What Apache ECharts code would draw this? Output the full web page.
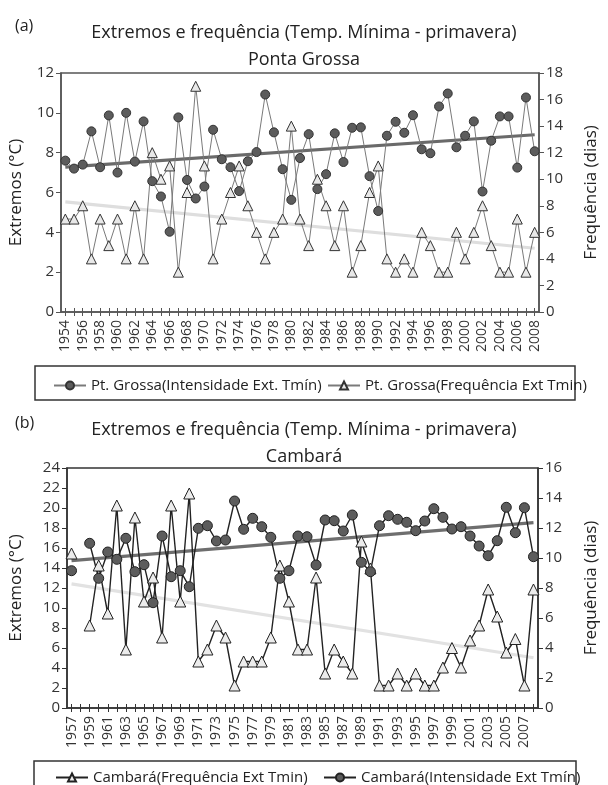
<!DOCTYPE html>
<html>
<head>
<meta charset="utf-8">
<script src="https://cdn.jsdelivr.net/npm/echarts@6/dist/echarts.min.js"></script>
<style>html,body{margin:0;padding:0;background:#fff}#c{width:608px;height:785px}</style>
</head>
<body>
<div id="c"></div>
<script>
// ---------- Data: Ponta Grossa (a) ----------
const yearsPG = ['1954','1955','1956','1957','1958','1959','1960','1961','1962','1963','1964','1965','1966','1967','1968','1969','1970','1971','1972','1973','1974','1975','1976','1977','1978','1979','1980','1981','1982','1983','1984','1985','1986','1987','1988','1989','1990','1991','1992','1993','1994','1995','1996','1997','1998','1999','2000','2001','2002','2003','2004','2005','2006','2007','2008'];
const pgIntensity = [7.6,7.2,7.4,9.07,7.27,9.87,7.0,10.0,7.55,9.57,6.57,5.8,4.03,9.77,6.63,5.7,6.3,9.15,7.67,7.27,6.07,7.57,8.03,10.92,9.02,7.17,5.63,7.73,8.93,6.17,6.92,8.97,7.53,9.25,9.27,6.82,5.07,8.85,9.55,9.0,9.88,8.17,7.97,10.32,10.97,8.27,8.85,9.57,6.05,8.6,9.82,9.82,7.25,10.77,8.07];
const pgFrequency = [7,7,8,4,7,5,7,4,8,4,12,10,11,3,9,17,11,4,7,9,11,8,6,4,6,7,14,7,5,10,8,5,8,3,5,9,11,4,3,4,3,6,5,3,3,6,4,6,8,5,3,3,7,3,6];
const pgIntensityTrend = [7.27, 8.9];   // start / end of linear trend
const pgFrequencyTrend = [8.3, 4.8];

// ---------- Data: Cambará (b) ----------
const yearsCB = ['1957','1958','1959','1960','1961','1962','1963','1964','1965','1966','1967','1968','1969','1970','1971','1972','1973','1974','1975','1976','1977','1978','1979','1980','1981','1982','1983','1984','1985','1986','1987','1988','1989','1990','1991','1992','1993','1994','1995','1996','1997','1998','1999','2000','2001','2002','2003','2004','2005','2006','2007','2008'];
const cbIntensity = [13.73,null,16.47,12.97,15.6,14.87,16.97,13.63,14.33,10.53,17.2,13.13,13.73,12.13,17.97,18.23,16.7,16.8,20.7,17.87,18.97,18.13,17.07,12.97,13.73,17.2,17.13,14.3,18.8,18.73,17.7,19.3,14.57,13.63,18.23,19.23,18.87,18.57,17.73,18.7,19.93,19.07,17.9,18.13,17.2,16.2,15.23,16.73,20.07,17.53,20.03,15.13];
const cbFrequency = [10.3,null,5.5,9.5,6.3,13.5,3.9,12.7,7.1,8.7,4.7,13.5,7.1,14.3,3.1,3.9,5.5,4.7,1.5,3.1,3.1,3.1,4.7,9.5,7.1,3.9,3.9,8.7,2.3,3.9,3.1,2.3,11.1,9.3,1.5,1.5,2.3,1.5,2.3,1.5,1.5,2.7,4.0,2.7,4.5,5.5,7.9,6.1,3.7,4.6,1.5,7.9];
const cbIntensityTrend = [14.73, 18.53];
const cbFrequencyTrend = [8.27, 3.35];

const FONT = 'Open Sans';
const chart = echarts.init(document.getElementById('c'), null, {renderer: 'canvas'});

function xAxes(gridIndex, cats, color) {
  return [
    {type:'category', gridIndex, data:cats, boundaryGap:true, position:'bottom',
     axisLine:{lineStyle:{color, width:1.5}},
     axisTick:{show:true, interval:0, alignWithLabel:true, length:4, lineStyle:{color}},
     axisLabel:{interval:1, rotate:90, fontSize:14, color:'#333', fontFamily:FONT, margin:8},
     splitLine:{show:false}},
    {type:'category', gridIndex, data:cats, boundaryGap:true, position:'bottom',
     axisLine:{show:false},
     axisTick:{show:true, inside:true, interval:0, alignWithLabel:true, length:4, lineStyle:{color}},
     axisLabel:{show:false}, splitLine:{show:false}}
  ];
}
function yAxis(gridIndex, pos, max, name, gap, color) {
  return {type:'value', gridIndex, position:pos, min:0, max, interval:2,
    name, nameLocation:'middle', nameRotate:90, nameGap:gap,
    nameTextStyle:{fontSize:17, color:'#222', fontFamily:FONT},
    axisLine:{show:true, lineStyle:{color, width:1.5}},
    axisTick:{show:true, length:5, lineStyle:{color}},
    axisLabel:{fontSize:15, color:'#333', fontFamily:FONT, margin:7},
    splitLine:{show:false}};
}

const option = {
  animation:false,
  backgroundColor:'#fff',
  textStyle:{fontFamily:FONT},
  title:[
    {text:'Extremos e frequência (Temp. Mínima - primavera)\nPonta Grossa', left:'center', top:14,
     textStyle:{fontSize:18, fontWeight:'normal', color:'#222', lineHeight:27, fontFamily:FONT}},
    {text:'Extremos e frequência (Temp. Mínima - primavera)\nCambará', left:'center', top:411,
     textStyle:{fontSize:18, fontWeight:'normal', color:'#222', lineHeight:27, fontFamily:FONT}}
  ],
  graphic:[
    {type:'text', left:15, top:18, style:{text:'(a)', fontSize:16, fill:'#222', fontFamily:FONT}},
    {type:'text', left:15, top:415, style:{text:'(b)', fontSize:16, fill:'#222', fontFamily:FONT}},
    {type:'rect', shape:{x:35, y:366, width:540, height:34}, style:{fill:'none', stroke:'#333', lineWidth:1.5}},
    {type:'rect', shape:{x:34, y:761, width:542, height:40}, style:{fill:'none', stroke:'#333', lineWidth:1.5}}
  ],
  legend:[
    {data:['Pt. Grossa(Intensidade Ext. Tmín)'], left:48, top:373, itemWidth:32, itemHeight:10, itemGap:10, itemTextGap:13,
     textStyle:{fontSize:15, color:'#222', fontFamily:FONT}},
    {data:['Pt. Grossa(Frequência Ext Tmin)'], left:322, top:373, itemWidth:32, itemHeight:10, itemTextGap:9,
     textStyle:{fontSize:15, color:'#222', fontFamily:FONT}},
    {data:['Cambará(Frequência Ext Tmin)'], left:50, top:765, itemWidth:32, itemHeight:10, itemTextGap:11,
     textStyle:{fontSize:15, color:'#222', fontFamily:FONT}},
    {data:['Cambará(Intensidade Ext Tmín)'], left:318, top:765, itemWidth:32, itemHeight:10, itemTextGap:12,
     textStyle:{fontSize:15, color:'#222', fontFamily:FONT}}
  ],
  grid:[
    {left:54, right:57, top:73, height:239, show:true, borderColor:'#555', borderWidth:1.5, backgroundColor:'transparent'},
    {left:64, right:58, top:468, height:240, show:true, borderColor:'#333', borderWidth:1.5, backgroundColor:'transparent'}
  ],
  xAxis:[].concat(xAxes(0, yearsPG, '#555'), xAxes(1, yearsCB, '#333')),
  yAxis:[
    yAxis(0,'left',12,'Extremos (°C)',36,'#555'),
    yAxis(0,'right',18,'Frequência (dias)',44,'#555'),
    yAxis(1,'left',24,'Extremos (°C)',42,'#333'),
    yAxis(1,'right',16,'Frequência (dias)',45,'#333')
  ],
  series:[
    {type:'line', name:'trendPGI', xAxisIndex:0, yAxisIndex:0, z:1, silent:true, symbol:'none',
     data:[[yearsPG[0], pgIntensityTrend[0]], [yearsPG[yearsPG.length-1], pgIntensityTrend[1]]],
     lineStyle:{color:'#6a6a6a', width:3.2}},
    {type:'line', name:'trendPGF', xAxisIndex:0, yAxisIndex:1, z:1, silent:true, symbol:'none',
     data:[[yearsPG[0], pgFrequencyTrend[0]], [yearsPG[yearsPG.length-1], pgFrequencyTrend[1]]],
     lineStyle:{color:'#dedede', width:3.2}},
    {type:'line', name:'Pt. Grossa(Intensidade Ext. Tmín)', xAxisIndex:0, yAxisIndex:0, z:3, data:pgIntensity,
     symbol:'circle', symbolSize:9, showAllSymbol:true,
     lineStyle:{color:'#7a7a7a', width:1},
     itemStyle:{color:'#5c5c5c', borderColor:'#333', borderWidth:1}},
    {type:'line', name:'Pt. Grossa(Frequência Ext Tmin)', xAxisIndex:0, yAxisIndex:1, z:3, data:pgFrequency,
     symbol:'triangle', symbolSize:10, showAllSymbol:true,
     lineStyle:{color:'#7a7a7a', width:1},
     itemStyle:{color:'#e8e8e8', borderColor:'#333', borderWidth:1}},

    {type:'line', name:'trendCBI', xAxisIndex:2, yAxisIndex:2, z:1, silent:true, symbol:'none',
     data:[[yearsCB[0], cbIntensityTrend[0]], [yearsCB[yearsCB.length-1], cbIntensityTrend[1]]],
     lineStyle:{color:'#6e6e6e', width:3.2}},
    {type:'line', name:'trendCBF', xAxisIndex:2, yAxisIndex:3, z:1, silent:true, symbol:'none',
     data:[[yearsCB[0], cbFrequencyTrend[0]], [yearsCB[yearsCB.length-1], cbFrequencyTrend[1]]],
     lineStyle:{color:'#e2e2e2', width:3.2}},
    {type:'line', name:'Cambará(Frequência Ext Tmin)', xAxisIndex:2, yAxisIndex:3, z:3, data:cbFrequency,
     symbol:'triangle', symbolSize:11, showAllSymbol:true, connectNulls:false,
     lineStyle:{color:'#222', width:1.4},
     itemStyle:{color:'#ececec', borderColor:'#222', borderWidth:1}},
    {type:'line', name:'Cambará(Intensidade Ext Tmín)', xAxisIndex:2, yAxisIndex:2, z:3, data:cbIntensity,
     symbol:'circle', symbolSize:10, showAllSymbol:true, connectNulls:false,
     lineStyle:{color:'#222', width:1.4},
     itemStyle:{color:'#5c5c5c', borderColor:'#222', borderWidth:1}}
  ]
};
chart.setOption(option);
</script>
</body>
</html>
